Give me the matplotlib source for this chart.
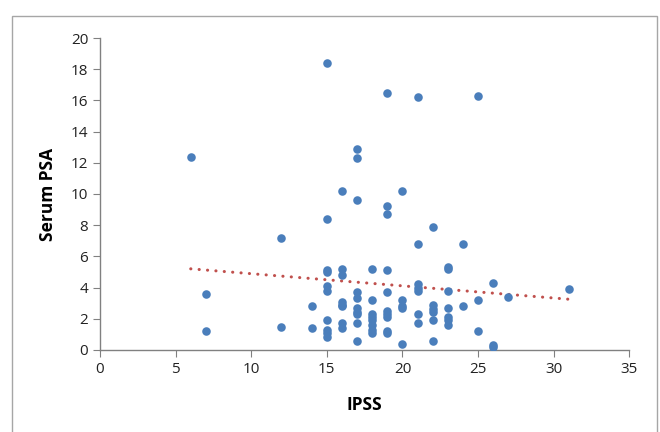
import numpy as np
import matplotlib.pyplot as plt
from matplotlib.patches import Rectangle

# IPSS score (x) and serum PSA (y)
ipss = [6,
        7, 7,
        12, 12,
        14, 14,
        15, 15, 15, 15, 15, 15, 15, 15, 15, 15,
        16, 16, 16, 16, 16, 16, 16, 16,
        17, 17, 17, 17, 17, 17, 17, 17, 17, 17,
        18, 18, 18, 18, 18, 18, 18, 18,
        19, 19, 19, 19, 19, 19, 19, 19, 19, 19,
        20, 20, 20, 20, 20,
        21, 21, 21, 21, 21, 21, 21,
        22, 22, 22, 22, 22, 22,
        23, 23, 23, 23, 23, 23, 23,
        24, 24,
        25, 25, 25,
        26, 26, 26,
        27,
        31]
psa = [12.4,
       3.6, 1.2,
       7.2, 1.5,
       2.8, 1.4,
       18.4, 8.4, 5.1, 5.0, 4.1, 3.8, 1.9, 1.3, 1.1, 0.8,
       10.2, 5.2, 4.8, 3.1, 2.9, 2.8, 1.7, 1.4,
       12.9, 12.3, 9.6, 3.7, 3.3, 2.7, 2.4, 2.3, 1.7, 0.6,
       5.2, 3.2, 2.3, 2.1, 1.9, 1.6, 1.3, 1.1,
       16.5, 9.2, 8.7, 5.1, 3.7, 2.5, 2.3, 2.1, 1.2, 1.1,
       10.2, 3.2, 2.8, 2.7, 0.4,
       16.2, 6.8, 4.2, 4.0, 3.8, 2.3, 1.7,
       7.9, 2.9, 2.6, 2.4, 1.9, 0.6,
       5.3, 5.2, 3.8, 2.7, 2.1, 1.9, 1.6,
       6.8, 2.8,
       16.3, 3.2, 1.2,
       4.3, 0.3, 0.2,
       3.4,
       3.9]

# linear trendline ends as drawn in the chart
trend_x = [6, 31]
trend_y = [5.2, 3.25]

plt.rcParams['font.family'] = ['Open Sans', 'DejaVu Sans']

fig = plt.figure(figsize=(6.6, 4.32), dpi=100)
ax = fig.add_axes([0.1515, 0.19, 0.802, 0.722])

# outer chart border
fig.patches.append(Rectangle((12 / 660, -0.01), 645 / 660, 1 - 16 / 432 + 0.01,
                             transform=fig.transFigure, fill=False,
                             edgecolor='#a6a6a6', linewidth=1.0))

ax.scatter(ipss, psa, s=38, color='#4a7ebb', zorder=3, linewidths=0)

ax.plot(trend_x, trend_y, linestyle=(0, (0.05, 2.7)), color='#c0504d',
        linewidth=2.2, dash_capstyle='round', zorder=2)

ax.set_xlim(0, 35)
ax.set_ylim(0, 20)
ax.set_xticks(range(0, 36, 5))
ax.set_yticks(range(0, 21, 2))

for s in ['top', 'right']:
    ax.spines[s].set_visible(False)
for s in ['left', 'bottom']:
    ax.spines[s].set_color('#808080')
    ax.spines[s].set_linewidth(1.0)

ax.tick_params(axis='both', direction='out', length=5, color='#808080',
               labelsize=11, labelcolor='#222222')
ax.set_xlabel('IPSS', fontsize=12.5, fontweight='bold', labelpad=14)
ax.set_ylabel('Serum PSA', fontsize=12.5, fontweight='bold', labelpad=10)

fig.savefig('out.png', dpi=100)
